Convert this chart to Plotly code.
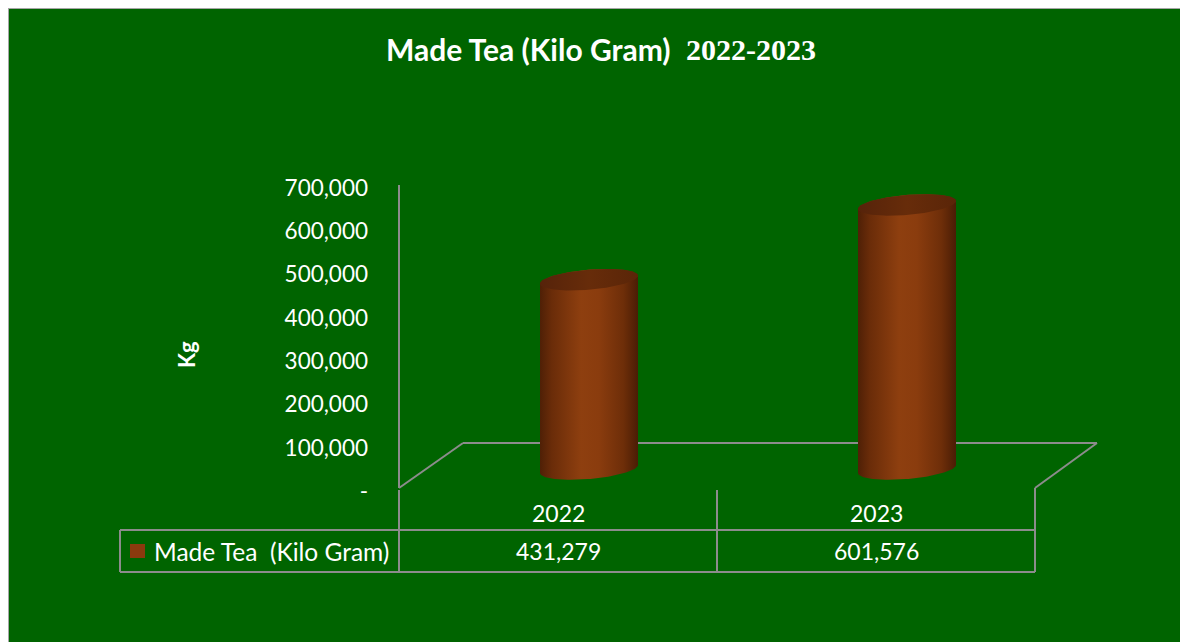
import numpy as np
import plotly.graph_objects as go

# data
years = ["2022", "2023"]
made_tea = [431279, 601576]
series_name = "Made Tea  (Kilo Gram)"
title_main = "Made Tea (Kilo Gram)"
title_years = "2022-2023"
tick_values = [0, 100000, 200000, 300000, 400000, 500000, 600000, 700000]
tick_labels = ["-", "100,000", "200,000", "300,000", "400,000", "500,000", "600,000", "700,000"]

# figure sits at (8, 8) in the page, so it fills the rest of the window
W, H = 1188, 634
GREEN = "#006400"
GREY = "#8c8c8c"
FONT = "Lato"


def fx(px):
    return px / W


def fy(py):
    return 1 - py / H


# cylinder plane: index 0 at 581px, step 318px; value 0 at 461px, 43.9px per 100k
X0, XSTEP = 581, 318
Y0, PPY = 461, 43.9 / 100000
Y_LO, Y_HI = -60000, 700000
half_w = 49 / XSTEP
b = 10 / PPY      # ellipse vertical radius (value units)
sh = 4 / PPY      # tilt of the ellipses

fig = go.Figure()

t_front = np.linspace(np.pi, 2 * np.pi, 60)
t_back = np.linspace(0, np.pi, 60)
t_full = np.linspace(0, 2 * np.pi, 120)
body_scale = [[0, "#4f2006"], [0.12, "#6a2c09"], [0.42, "#8e3f0f"], [0.6, "#8a3c0e"],
              [0.85, "#6e2e09"], [1, "#4a1d05"]]
top_scale = [[0, "#56230a"], [0.5, "#672c0a"], [1, "#5a2508"]]

for i, (yr, v) in enumerate(zip(years, made_tea)):
    bx = np.concatenate([i + half_w * np.cos(t_front), i + half_w * np.cos(t_back)])
    by = np.concatenate([b * np.sin(t_front) + sh * np.cos(t_front),
                         v + b * np.sin(t_back) + sh * np.cos(t_back)])
    fig.add_trace(go.Scatter(
        x=bx, y=by, mode="lines", fill="toself", line=dict(width=0),
        fillgradient=dict(type="horizontal", colorscale=body_scale),
        hoverinfo="skip", showlegend=False))
    fig.add_trace(go.Scatter(
        x=i + half_w * np.cos(t_full),
        y=v + b * np.sin(t_full) + sh * np.cos(t_full),
        mode="lines", fill="toself", line=dict(width=0),
        fillgradient=dict(type="horizontal", colorscale=top_scale),
        hoverinfo="skip", showlegend=False))
    fig.add_trace(go.Scatter(
        x=[i], y=[v / 2], mode="markers", marker=dict(size=60, opacity=0),
        hovertemplate=f"{yr}: {v:,}<extra></extra>", showlegend=False))

# invisible trace so the value axis subplot exists
fig.add_trace(go.Scatter(x=[None], y=[None], xaxis="x2", yaxis="y2", showlegend=False))

shapes = [
    dict(type="rect", xref="paper", yref="paper", x0=fx(0), y0=fy(0), x1=fx(1300), y1=fy(800),
         fillcolor=GREEN, line=dict(color="#a6a6a6", width=2), layer="below"),
]
lines = [
    ((391, 177), (391, 480)),
    ((391, 480), (455, 435)), ((455, 435), (1089, 435)), ((1089, 435), (1027, 480)),
    ((391, 482), (391, 564)), ((709, 482), (709, 564)), ((1027, 480), (1027, 564)),
    ((112, 522), (1027, 522)), ((112, 564), (1027, 564)), ((112, 522), (112, 564)),
]
for (xa, ya), (xb, yb) in lines:
    shapes.append(dict(type="line", xref="paper", yref="paper", x0=fx(xa), y0=fy(ya),
                       x1=fx(xb), y1=fy(yb), line=dict(color=GREY, width=2), layer="below"))
shapes.append(dict(type="rect", xref="paper", yref="paper", x0=fx(122), y0=fy(536),
                   x1=fx(137), y1=fy(550), fillcolor="#8b3a0e", line=dict(width=0)))

annotations = [
    dict(text="<b>" + title_main + "</b>", x=fx(376), y=fy(41), xref="paper", yref="paper",
         showarrow=False, font=dict(family=FONT, size=30, color="white"),
         xanchor="left", yanchor="middle"),
    dict(text="<b>" + title_years + "</b>", x=fx(676), y=fy(41), xref="paper", yref="paper",
         showarrow=False, font=dict(family="Liberation Serif", size=30, color="white"),
         xanchor="left", yanchor="middle"),
    dict(text="<b>Kg</b>", x=fx(178), y=fy(347), xref="paper", yref="paper", showarrow=False,
         textangle=-90, font=dict(family=FONT, size=22, color="white"),
         xanchor="center", yanchor="middle"),
    dict(text=series_name, x=fx(144), y=fy(543), xref="paper", yref="paper", showarrow=False,
         font=dict(family=FONT, size=24.5, color="white"), xanchor="left", yanchor="middle"),
]
col_centers = [550, 868]
for c, yr, v in zip(col_centers, years, made_tea):
    annotations.append(dict(text=yr, x=fx(c), y=fy(505), xref="paper", yref="paper",
                            showarrow=False, font=dict(family=FONT, size=23, color="white"),
                            xanchor="center", yanchor="middle"))
    annotations.append(dict(text=f"{v:,}", x=fx(c), y=fy(543), xref="paper", yref="paper",
                            showarrow=False, font=dict(family=FONT, size=23, color="white"),
                            xanchor="center", yanchor="middle"))

fig.update_layout(
    width=W, height=H,
    margin=dict(l=0, r=0, t=0, b=0, autoexpand=False),
    paper_bgcolor="white",
    plot_bgcolor="rgba(0,0,0,0)",
    showlegend=False,
    shapes=shapes,
    annotations=annotations,
    xaxis=dict(range=[-0.5, 1.5], domain=[fx(X0 - XSTEP / 2), fx(X0 + XSTEP * 1.5)],
               visible=False, fixedrange=True),
    yaxis=dict(range=[Y_LO, Y_HI], domain=[fy(Y0 - Y_LO * PPY), fy(Y0 - Y_HI * PPY)],
               visible=False, fixedrange=True),
    xaxis2=dict(domain=[fx(391), fx(1027)], range=[0, 1], visible=False, anchor="y2"),
    yaxis2=dict(domain=[fy(483), fy(180)], range=[0, 700000], anchor="x2",
                tickvals=tick_values, ticktext=tick_labels, showgrid=False, zeroline=False,
                showline=False, ticks="", ticklabelstandoff=30,
                tickfont=dict(family=FONT, size=22.5, color="white")),
)

fig.write_html("out.html")
